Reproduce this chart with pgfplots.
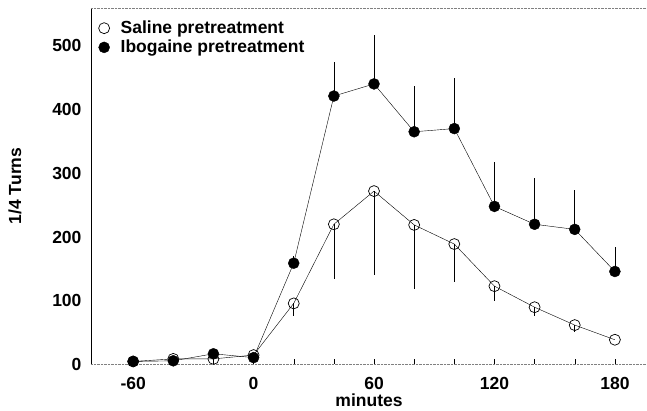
\documentclass[border=0pt]{standalone}
\usepackage{pgfplots}
\pgfplotsset{compat=1.18}
\usepackage{fontspec}
\setmainfont{Liberation Sans}
\begin{document}
\begin{tikzpicture}
\begin{axis}[
  name=ax,
  scale only axis, width=556pt, height=356pt,
  xmin=-81, xmax=196, ymin=-2, ymax=556,
  axis lines*=left,
  axis line style={-},
  x axis line style={draw=gray, densely dotted},
  y axis line style={draw=black, line width=0.8pt},
  xtick={-60,0,60,120,180},
  xticklabels={-60,0,60,120,180},
  minor xtick={-40,-20,20,40,80,100,140,160},
  ytick={0,100,200,300,400,500},
  yticklabels={0,100,200,300,400,500},
  tick align=inside,
  major tick length=5pt, minor tick length=5pt,
  x tick style={black, thin},
  minor x tick style={black, thin},
  y tick style={draw=none},
  tick label style={font=\bfseries\fontsize{17.5}{17.5}\selectfont},
  xticklabel style={yshift=-12.5pt, inner ysep=1pt},
  yticklabel style={xshift=-6pt, yshift=-2pt},
  xlabel={minutes}, ylabel={1/4 Turns},
  label style={font=\bfseries\fontsize{17.5}{17.5}\selectfont},
  xlabel style={at={(axis description cs:0.5,0)}, anchor=north, yshift=-28.5pt, inner ysep=1pt},
  ylabel style={yshift=24pt},
  legend style={draw=none, fill=none, at={(0.008,0.975)}, anchor=north west,
    font=\bfseries\fontsize{17.5}{17.5}\selectfont, row sep=1pt, column sep=9pt,
    legend cell align=left},
  legend image code/.code={\draw[#1] plot coordinates {(0.1cm,0cm)};},
  clip=false,
]
\draw[gray, densely dotted] (rel axis cs:0,1) -- (rel axis cs:1,1);
\addplot[black, thin, mark=o, mark size=5.5pt, mark options={fill=white, line width=0.7pt},
  error bars/.cd, y dir=minus, y explicit, error mark=none,
  error bar style={black, line width=0.7pt}]
  coordinates {
  (-60,2) (-40,6) (-20,6) (0,12)
  (20,93) +- (0,19)
  (40,217) +- (0,86)
  (60,269) +- (0,132)
  (80,216) +- (0,100)
  (100,186) +- (0,59)
  (120,120) +- (0,23)
  (140,87) +- (0,13)
  (160,59) +- (0,11)
  (180,36)
  };
\addlegendentry{Saline pretreatment}
\addplot[black, thin, mark=*, mark size=5.5pt, mark options={fill=black},
  error bars/.cd, y dir=plus, y explicit, error mark=none,
  error bar style={black, line width=0.7pt}]
  coordinates {
  (-60,2) (-40,3) (-20,14) (0,8)
  (20,156) +- (0,12)
  (40,418) +- (0,54)
  (60,437) +- (0,77)
  (80,362) +- (0,72)
  (100,367) +- (0,79)
  (120,245) +- (0,69)
  (140,217) +- (0,73)
  (160,209) +- (0,62)
  (180,143) +- (0,38)
  };
\addlegendentry{Ibogaine pretreatment}
\end{axis}
\pgfresetboundingbox
\path ([shift={(-91pt,-47pt)}]ax.south west) rectangle ([shift={(0pt,8pt)}]ax.north east);
\end{tikzpicture}
\end{document}
